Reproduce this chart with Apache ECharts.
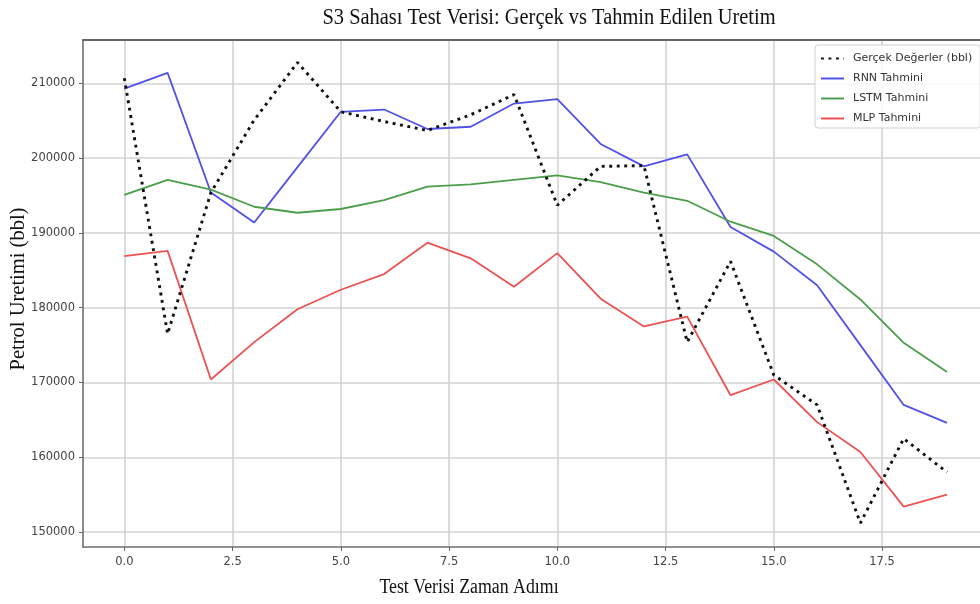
<!DOCTYPE html>
<html>
<head>
<meta charset="utf-8">
<script src="https://cdn.jsdelivr.net/npm/echarts@6/dist/echarts.min.js"></script>
<style>
html,body{margin:0;padding:0;background:#fff;}
#chart{width:980px;height:604px;}
</style>
</head>
<body>
<div id="chart"></div>
<script>
const steps = [0,1,2,3,4,5,6,7,8,9,10,11,12,13,14,15,16,17,18,19];
const gercek = [210700,176500,195400,205100,212800,206200,204900,203700,205800,208500,193700,198900,199000,175400,186200,171000,167000,151200,162500,158000];
const rnn    = [209300,211400,195400,191400,198800,206200,206500,203900,204200,207300,207900,201900,198900,200500,190800,187500,183000,175000,167000,164600];
const lstm   = [195100,197100,195800,193500,192700,193200,194400,196200,196500,197100,197700,196800,195400,194300,191500,189600,185800,181100,175300,171400];
const mlp    = [186900,187600,170400,175400,179800,182400,184500,188700,186600,182800,187300,181200,177500,178800,168300,170400,164700,160700,153400,155000];
const xTicks = [0,2.5,5,7.5,10,12.5,15,17.5];
const yTicks = [150000,160000,170000,180000,190000,200000,210000];
const seriesNames = ['Gerçek Değerler (bbl)','RNN Tahmini','LSTM Tahmini','MLP Tahmini'];
const titleText = 'S3 Sahası Test Verisi: Gerçek vs Tahmin Edilen Uretim';
const xLabelText = 'Test Verisi Zaman Adımı';
const yLabelText = 'Petrol Uretimi (bbl)';

const pair = arr => steps.map((t,i)=>[t,arr[i]]);
const chart = echarts.init(document.getElementById('chart'), null, {renderer:'canvas'});
const tickFont = {fontFamily:'DejaVu Sans', fontSize:11.5, color:'#444'};
const frame = {color:'#6e6e6e', width:1.6};
const xMin = -0.954, xMax = 19.762;
const option = {
  animation:false,
  backgroundColor:'#fff',
  grid:{left:83, top:40, right:0, bottom:57, show:false},
  xAxis:[{
    type:'value', min:xMin, max:xMax, position:'bottom',
    axisLine:{show:true, onZero:false, lineStyle:frame},
    axisTick:{show:true, length:4, lineStyle:{color:'#666'}, customValues:xTicks},
    axisLabel:Object.assign({margin:9, customValues:xTicks, formatter:v=>v.toFixed(1)}, tickFont),
    splitLine:{show:true, lineStyle:{color:'#d3d3d3', width:1.6}}
  },{
    type:'value', min:xMin, max:xMax, position:'top',
    axisLine:{show:true, onZero:false, lineStyle:{color:'#666', width:2}},
    axisTick:{show:false}, axisLabel:{show:false}, splitLine:{show:false}
  }],
  yAxis:{
    type:'value', min:148000, max:215800,
    axisLine:{show:true, onZero:false, lineStyle:frame},
    axisTick:{show:true, length:4, lineStyle:{color:'#666'}, customValues:yTicks},
    axisLabel:Object.assign({margin:8, customValues:yTicks, formatter:v=>String(v)}, tickFont),
    splitLine:{show:true, lineStyle:{color:'#d3d3d3', width:1.6}}
  },
  legend:{
    orient:'vertical', left:815, top:45,
    padding:[8,8,4,5], itemGap:9, itemWidth:23, itemHeight:11,
    backgroundColor:'rgba(255,255,255,0.85)', borderColor:'#d0d0d0', borderWidth:1, borderRadius:3,
    itemStyle:{opacity:0},
    textStyle:{fontFamily:'DejaVu Sans', fontSize:11, color:'#333', padding:[0,0,0,4]},
    data:seriesNames
  },
  graphic:[
    {type:'text', x:549, y:18, scaleX:0.9, style:{text:titleText, font:'22.7px "Liberation Serif"', fill:'#111', textAlign:'center', textVerticalAlign:'middle'}},
    {type:'text', x:469, y:588, scaleX:0.89, style:{text:xLabelText, font:'20px "Liberation Serif"', fill:'#111', textAlign:'center', textVerticalAlign:'middle'}},
    {type:'text', x:19, y:289, rotation:Math.PI/2, style:{text:yLabelText, font:'20.5px "Liberation Serif"', fill:'#111', textAlign:'center', textVerticalAlign:'middle'}}
  ],
  series:[
    {name:seriesNames[0], type:'line', data:pair(gercek), symbol:'none', z:5,
     lineStyle:{color:'#111', width:2.9, type:[2.9,4.6]}, itemStyle:{color:'#111'}},
    {name:seriesNames[1], type:'line', data:pair(rnn), symbol:'none',
     lineStyle:{color:'#5151e6', width:1.8}, itemStyle:{color:'#5151e6'}},
    {name:seriesNames[2], type:'line', data:pair(lstm), symbol:'none',
     lineStyle:{color:'#4c9e4c', width:1.8}, itemStyle:{color:'#4c9e4c'}},
    {name:seriesNames[3], type:'line', data:pair(mlp), symbol:'none',
     lineStyle:{color:'#ec5252', width:1.8}, itemStyle:{color:'#ec5252'}}
  ]
};
chart.setOption(option);
</script>
</body>
</html>
